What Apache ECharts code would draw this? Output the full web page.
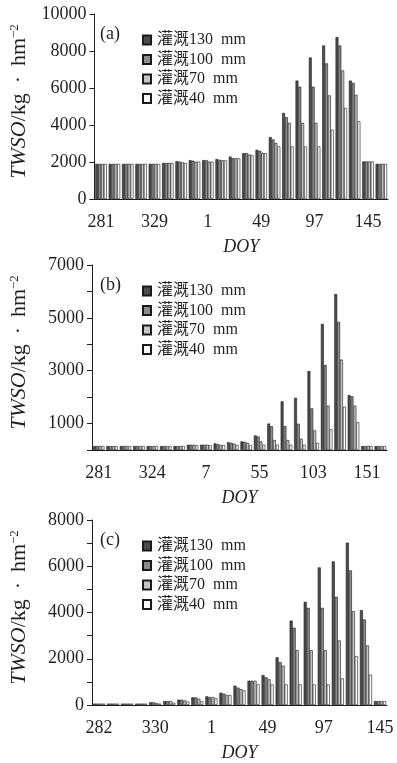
<!DOCTYPE html>
<html>
<head>
<meta charset="utf-8">
<script src="https://cdn.jsdelivr.net/npm/echarts@6/dist/echarts.min.js"></script>
<style>
  html, body { margin: 0; padding: 0; background: #fff; }
  #chart { width: 397px; height: 763px; }
</style>
</head>
<body>
<div id="chart"></div>
<script>
// 图例名称
const names = ['灌溉130  mm', '灌溉100  mm', '灌溉70  mm', '灌溉40  mm']

// (a)
const aDoy = ['281', '293', '305', '317', '329', '341', '353', '365', '1', '13', '25', '37', '49', '61', '73', '85', '97', '109', '121', '133', '145', '157']
const a130 = [1900, 1900, 1900, 1900, 1900, 1950, 2040, 2100, 2100, 2160, 2290, 2480, 2660, 3350, 4650, 6400, 7650, 8300, 8750, 6400, 2030, 1900]
const a100 = [1900, 1900, 1900, 1900, 1900, 1950, 2020, 2070, 2100, 2120, 2200, 2480, 2610, 3220, 4420, 6070, 6070, 7330, 8300, 6280, 2030, 1900]
const a70 = [1900, 1900, 1900, 1900, 1900, 1950, 1980, 2020, 2020, 2090, 2200, 2410, 2500, 3030, 4120, 4120, 4120, 5600, 6950, 5630, 2030, 1900]
const a40 = [1900, 1900, 1900, 1900, 1900, 1950, 1950, 2020, 2020, 2090, 2200, 2360, 2480, 2840, 2840, 2840, 2840, 3750, 4920, 4200, 2030, 1900]

// (b)
const bDoy = ['281', '292', '303', '313', '324', '335', '346', '356', '7', '19', '31', '43', '55', '67', '79', '91', '103', '115', '127', '139', '151', '163']
const b130 = [150, 150, 150, 150, 150, 150, 150, 200, 200, 250, 290, 325, 550, 1000, 1840, 1975, 2990, 4770, 5900, 2080, 150, 150]
const b100 = [150, 150, 150, 150, 150, 150, 150, 200, 200, 225, 275, 310, 510, 900, 900, 990, 1575, 3220, 4850, 2030, 150, 150]
const b70 = [150, 150, 150, 150, 150, 150, 150, 200, 200, 190, 240, 275, 325, 375, 375, 425, 740, 1680, 3420, 1680, 150, 150]
const b40 = [150, 150, 150, 150, 150, 150, 150, 180, 180, 190, 190, 190, 200, 200, 200, 200, 275, 780, 1640, 1050, 150, 150]

// (c)
const cDoy = ['282', '294', '306', '318', '330', '342', '354', '365', '1', '13', '25', '37', '49', '61', '73', '85', '97', '109', '121', '133', '145']
const c130 = [60, 60, 60, 60, 115, 170, 230, 330, 375, 530, 835, 1050, 1295, 2060, 3650, 4460, 5950, 6210, 7020, 4100, 170]
const c100 = [60, 60, 60, 60, 115, 170, 230, 330, 345, 490, 750, 1050, 1195, 1855, 3340, 4200, 4200, 4680, 5820, 3700, 170]
const c70 = [60, 60, 60, 60, 85, 170, 200, 275, 345, 430, 690, 1050, 1110, 1700, 2370, 2370, 2370, 2790, 4060, 2575, 170]
const c40 = [60, 60, 60, 60, 60, 100, 145, 160, 290, 430, 630, 890, 890, 890, 890, 890, 890, 1150, 2115, 1310, 170]

const colors = ['#4d4d4d', '#8c8c8c', '#c6c6c6', '#ffffff']
const serif = '"Liberation Serif", "Noto Sans CJK SC", serif'
const ink = '#231f20'

const panels = [
  { tag: '(a)', doy: aDoy, values: [a130, a100, a70, a40], top: 14, width: 302, max: 10000, interval: 2000, every: 2000 },
  { tag: '(b)', doy: bDoy, values: [b130, b100, b70, b40], top: 265, width: 301, max: 7000, interval: 1000, every: 2000, offset: 1000 },
  { tag: '(c)', doy: cDoy, values: [c130, c100, c70, c40], top: 520, width: 301, max: 8000, interval: 1000, every: 2000 },
]

const option = {
  animation: false,
  textStyle: { fontFamily: serif },
  title: [],
  legend: [],
  grid: [],
  xAxis: [],
  yAxis: [],
  series: [],
}

panels.forEach((p, i) => {
  option.grid.push({ left: 86, top: p.top, width: p.width, height: 185 })

  option.title.push({
    text: p.tag,
    left: 95,
    top: p.top + 6,
    textStyle: { fontFamily: serif, fontSize: 18, fontWeight: 'normal', color: ink },
  })

  option.legend.push({
    data: names,
    orient: 'vertical',
    left: 137,
    top: p.top + 13,
    itemWidth: 8,
    itemHeight: 9,
    itemGap: 3.5,
    icon: 'rect',
    textStyle: { fontFamily: serif, fontSize: 16, color: ink, lineHeight: 16, padding: [0, 0, 0, 1] },
    selectedMode: false,
  })

  option.xAxis.push({
    type: 'category',
    gridIndex: i,
    data: p.doy,
    name: 'DOY',
    nameLocation: 'middle',
    nameGap: 39,
    nameTextStyle: { fontFamily: serif, fontSize: 18, fontStyle: 'italic', color: ink },
    axisLine: { lineStyle: { color: ink, width: 1 } },
    axisTick: { alignWithLabel: false, length: 4, lineStyle: { color: ink } },
    axisLabel: { interval: 3, margin: 14, fontFamily: serif, fontSize: 18, color: ink },
    splitLine: { show: false },
  })

  option.yAxis.push({
    type: 'value',
    gridIndex: i,
    min: 0,
    max: p.max,
    interval: p.interval,
    name: '{i|TWSO}{r|/kg\u2009 · \u2009hm}{s|−2}',
    nameLocation: 'middle',
    nameGap: 61,
    nameRotate: 90,
    nameTextStyle: {
      padding: [0, 0, 0, 10],
      rich: {
        i: { fontFamily: serif, fontSize: 22, fontStyle: 'italic', color: ink },
        r: { fontFamily: serif, fontSize: 22, color: ink },
        s: { fontFamily: serif, fontSize: 13, color: ink, verticalAlign: 'top', padding: [0, 0, 10, 0] },
      },
    },
    axisLine: { show: true, lineStyle: { color: ink, width: 1 } },
    axisTick: { show: true, length: 5, lineStyle: { color: ink } },
    axisLabel: {
      margin: 8,
      fontFamily: serif,
      fontSize: 18,
      color: ink,
      formatter: (v) => ((v - (p.offset || 0)) % p.every === 0 && v >= (p.offset || 0) ? String(v) : ''),
    },
    splitLine: { show: false },
  })

  p.values.forEach((vals, k) => {
    option.series.push({
      name: names[k],
      type: 'bar',
      xAxisIndex: i,
      yAxisIndex: i,
      data: vals,
      barGap: '0%',
      barCategoryGap: '14%',
      itemStyle: { color: colors[k], borderColor: '#1a1a1a', borderWidth: 0.6 },
    })
  })
})

const chart = echarts.init(document.getElementById('chart'))
chart.setOption(option)
window.addEventListener('resize', () => chart.resize())
</script>
</body>
</html>
